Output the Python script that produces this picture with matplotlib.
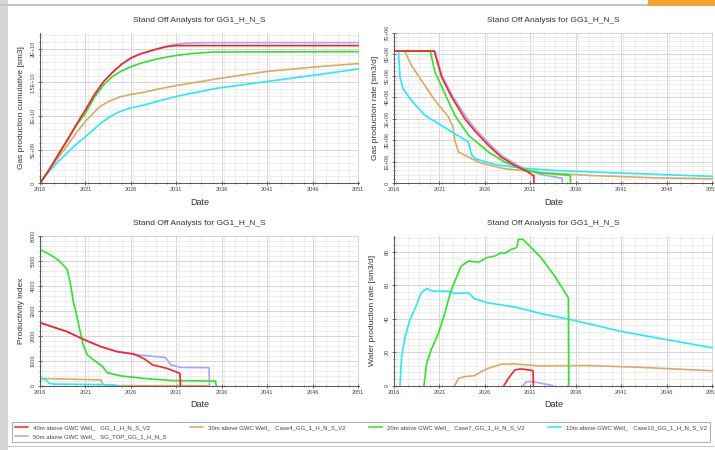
import matplotlib.pyplot as plt
from matplotlib.ticker import MultipleLocator, AutoMinorLocator, FixedLocator
from matplotlib.patches import Rectangle
from matplotlib.lines import Line2D

plt.rcParams['font.family'] = ['Liberation Sans', 'DejaVu Sans']

title = "Stand Off Analysis for GG1_H_N_S"

# case names (legend) and colours
case_labels = {
    "red": "40m above GWC Well_   GG_1_H_N_S_V2",
    "tan": "30m above GWC Well_   Case4_GG_1_H_N_S_V2",
    "green": "20m above GWC Well_   Case7_GG_1_H_N_S_V2",
    "cyan": "10m above GWC Well_   Case10_GG_1_H_N_S_V2",
    "lav": "50m above GWC Well_   SG_TOP_GG_1_H_N_S",
}
colors = {"red": "#ff2222", "tan": "#dcaa62", "green": "#2be62b",
          "cyan": "#22eaff", "lav": "#a8a4ff"}

# gas production cumulative [sm3]
cum_yr = {
    "red": [2016, 2017, 2018, 2019, 2020, 2021, 2022, 2023, 2024, 2025, 2026, 2027, 2028, 2029, 2030, 2031, 2051.2],
    "lav": [2016, 2017, 2018, 2019, 2020, 2021, 2022, 2023, 2024, 2025, 2026, 2027, 2028, 2029, 2030, 2031,
            2032, 2033, 2034.6, 2051.2],
    "green": [2016, 2017, 2018, 2019, 2020, 2021, 2022, 2023, 2024, 2025, 2026, 2027, 2029, 2031, 2033, 2035.1,
              2051.2],
    "tan": [2016, 2017, 2018, 2018.9, 2020, 2021, 2022, 2022.5, 2023.5, 2024.7, 2026, 2027.4, 2029, 2031,
            2035.4, 2040.9, 2046.4, 2051.2],
    "cyan": [2016, 2017.1, 2018, 2018.9, 2020, 2021, 2022, 2022.6, 2023.6, 2024.7, 2026, 2027.4, 2029, 2031,
             2035.4, 2040.9, 2046.4, 2051.2],
}
cum_val = {
    "red": [0, 0.2e10, 0.42e10, 0.64e10, 0.87e10, 1.09e10, 1.32e10, 1.51e10, 1.65e10, 1.77e10, 1.86e10,
            1.92e10, 1.96e10, 2.0e10, 2.03e10, 2.045e10, 2.045e10],
    "lav": [0, 0.2e10, 0.42e10, 0.64e10, 0.87e10, 1.09e10, 1.32e10, 1.51e10, 1.65e10, 1.77e10, 1.86e10,
            1.92e10, 1.96e10, 2.0e10, 2.04e10, 2.065e10, 2.08e10, 2.087e10, 2.09e10, 2.09e10],
    "green": [0, 0.2e10, 0.42e10, 0.64e10, 0.86e10, 1.04e10, 1.28e10, 1.46e10, 1.59e10, 1.67e10, 1.73e10,
              1.78e10, 1.85e10, 1.90e10, 1.93e10, 1.95e10, 1.955e10],
    "tan": [0, 0.19e10, 0.38e10, 0.54e10, 0.75e10, 0.92e10, 1.06e10, 1.13e10, 1.21e10, 1.28e10, 1.32e10,
            1.35e10, 1.40e10, 1.45e10, 1.55e10, 1.66e10, 1.73e10, 1.78e10],
    "cyan": [0, 0.19e10, 0.32e10, 0.44e10, 0.58e10, 0.69e10, 0.81e10, 0.88e10, 0.98e10, 1.06e10, 1.12e10,
             1.16e10, 1.22e10, 1.29e10, 1.41e10, 1.51e10, 1.61e10, 1.70e10],
}

# gas production rate [sm3/d]
rate_yr = {
    "red": [2016, 2016, 2020.44, 2021.24, 2022.34, 2023.8, 2024.9, 2026.4, 2027.8, 2029.3, 2030.8, 2031.3, 2031.4, 2031.4],
    "lav": [2016, 2016, 2020.5, 2021.3, 2022.4, 2023.9, 2025.0, 2026.5, 2027.9, 2029.4, 2030.8, 2032.2, 2034.5, 2034.55],
    "green": [2016, 2016, 2020.0, 2020.5, 2021.6, 2022.7, 2024.2, 2026.4, 2028.2, 2030.0, 2032.2, 2035.4, 2035.45],
    "tan": [2016, 2016, 2017.2, 2017.9, 2019.0, 2020.5, 2022.0, 2022.5, 2022.7, 2023.1, 2024.2, 2025.6, 2028.2,
            2031.9, 2037.4, 2044.7, 2051.3],
    "cyan": [2016, 2016, 2016.5, 2016.66, 2017.0, 2017.9, 2019.4, 2020.9, 2022.7, 2024.2, 2024.5, 2024.9, 2027.1,
             2030.0, 2033.7, 2041.0, 2051.3],
}
rate_val = {
    "red": [0, 6.15e6, 6.15e6, 4.95e6, 4.02e6, 3.0e6, 2.43e6, 1.76e6, 1.21e6, 0.83e6, 0.51e6, 0.36e6, 0.36e6, 0],
    "lav": [0, 6.15e6, 6.15e6, 5.0e6, 4.1e6, 3.1e6, 2.5e6, 1.83e6, 1.27e6, 0.88e6, 0.58e6, 0.40e6, 0.23e6, 0],
    "green": [0, 6.15e6, 6.15e6, 5.19e6, 4.17e6, 3.16e6, 2.23e6, 1.45e6, 0.98e6, 0.67e6, 0.47e6, 0.36e6, 0],
    "tan": [0, 6.15e6, 6.15e6, 5.5e6, 4.8e6, 3.86e6, 3.08e6, 2.62e6, 2.0e6, 1.45e6, 1.21e6, 0.93e6, 0.67e6,
            0.51e6, 0.36e6, 0.25e6, 0.20e6],
    "cyan": [0, 6.15e6, 6.15e6, 4.95e6, 4.4e6, 3.86e6, 3.16e6, 2.77e6, 2.3e6, 1.92e6, 1.37e6, 1.14e6, 0.87e6,
             0.70e6, 0.59e6, 0.47e6, 0.31e6],
}

# productivity index
pi_yr = {
    "red": [2016, 2016, 2019.0, 2020.8, 2022.7, 2024.5, 2026.3, 2027.4, 2028.4, 2030.0, 2031.4, 2031.45],
    "lav": [2016, 2016, 2019.0, 2020.8, 2022.7, 2024.5, 2026.3, 2027.4, 2029.8, 2030.4, 2031.5, 2034.6, 2034.65],
    "green": [2016, 2016, 2017.2, 2018.1, 2019.0, 2019.4, 2019.7, 2019.9, 2020.3, 2020.7, 2021.2, 2022.3, 2022.9,
              2023.4, 2024.9, 2027.4, 2030.7, 2035.3, 2035.4],
    "tan": [2016, 2016, 2022.7, 2022.9, 2023.2, 2034.6],
    "cyan": [2016, 2016, 2016.6, 2017.0, 2017.5, 2022.7, 2024.3, 2024.5],
}
pi_val = {
    "red": [0, 2520, 2160, 1850, 1560, 1360, 1270, 1090, 830, 690, 490, 0],
    "lav": [0, 2520, 2160, 1850, 1560, 1360, 1250, 1210, 1130, 830, 730, 720, 0],
    "green": [0, 5450, 5225, 5000, 4650, 3960, 3290, 3030, 2360, 1690, 1230, 920, 760, 520, 390, 290, 200, 187, 0],
    "tan": [0, 290, 230, 65, 0, 0],
    "cyan": [0, 290, 250, 90, 65, 40, 25, 0],
}

# water production rate [sm3/d]
wat_yr = {
    "cyan": [2016.66, 2016.84, 2017.2, 2017.76, 2018.5, 2019.0, 2019.6, 2020.3, 2022.0, 2022.7, 2024.2, 2024.9,
             2026.4, 2029.3, 2032.2, 2035.5, 2041.0, 2046.5, 2051.3],
    "green": [2019.3, 2019.6, 2020.1, 2020.9, 2021.6, 2022.2, 2022.7, 2023.4, 2024.2, 2025.3, 2026.2, 2027.1,
              2027.8, 2028.2, 2028.9, 2029.5, 2029.7, 2030.2, 2032.2, 2033.7, 2035.2, 2035.25],
    "tan": [2022.7, 2023.1, 2023.8, 2024.9, 2025.6, 2026.4, 2027.8, 2029.3, 2031.9, 2037.4, 2042.9, 2051.3],
    "red": [2028.1, 2028.6, 2029.3, 2030.0, 2030.8, 2031.3, 2031.35],
    "lav": [2030.2, 2030.6, 2031.3, 2032.2, 2033.5],
}
wat_val = {
    "cyan": [0, 17.4, 28.4, 39.4, 48.4, 55.4, 58, 56.4, 56.4, 55, 55.4, 51.8, 49.4, 47, 43, 39.4, 32.4, 27, 22.4],
    "green": [0, 13.4, 21.4, 31.4, 43.4, 55.4, 62.4, 71.4, 74.4, 73.8, 76.4, 77.4, 79.4, 79, 81.4, 82.4, 87.4,
              87.4, 76.4, 65.4, 52.4, 0],
    "tan": [0, 4.4, 5.4, 6, 8.4, 10.4, 12.8, 13, 11.8, 12, 11, 8.8],
    "red": [0, 4.4, 9.4, 10, 9.4, 9, 0],
    "lav": [0, 2.4, 2.4, 1.4, 0],
}

draw_order = ["lav", "tan", "cyan", "green", "red"]
year_ticks = [2016, 2021, 2026, 2031, 2036, 2041, 2046, 2051]

fig = plt.figure(figsize=(7.15, 4.5), dpi=100)

# window decorations of the screenshot
fig.add_artist(Rectangle((0, 0), 8 / 715, 1, transform=fig.transFigure, color="#d6d6d6", lw=0))
fig.add_artist(Rectangle((0, 1 - 6 / 450), 648 / 715, 2 / 450, transform=fig.transFigure, color="#c4c4c4", lw=0))
fig.add_artist(Rectangle((648 / 715, 1 - 6 / 450), 67 / 715, 6 / 450, transform=fig.transFigure, color="#f0a42c", lw=0))
fig.add_artist(Rectangle((8 / 715, 3 / 450), 706 / 715, 1 / 450, transform=fig.transFigure, color="#c8c8c8", lw=0))


def setup(ax, ylabel, ylim, yticks, ylabels, labelpad):
    ax.set_xlim(2016, 2051.1)
    ax.set_ylim(*ylim)
    ax.set_title(title, fontsize=6, color="#333333", pad=8)
    ax.set_xlabel("Date", fontsize=6.5, color="#333333", labelpad=4)
    ax.set_ylabel(ylabel, fontsize=6, color="#333333", labelpad=labelpad)
    ax.xaxis.set_major_locator(FixedLocator(year_ticks))
    ax.set_xticklabels([str(y) for y in year_ticks])
    ax.xaxis.set_minor_locator(MultipleLocator(1.25))
    ax.yaxis.set_major_locator(FixedLocator(yticks))
    ax.set_yticklabels(ylabels, rotation=90, va="center")
    ax.yaxis.set_minor_locator(AutoMinorLocator(5))
    ax.tick_params(which="major", direction="inout", length=3, width=0.6, color="#555555",
                   labelsize=4, labelcolor="#444444", pad=1.5)
    ax.tick_params(which="minor", direction="inout", length=1.8, width=0.5, color="#666666")
    ax.grid(which="major", color="#cfcfcf", lw=0.6)
    ax.grid(which="minor", color="#e8e8e8", lw=0.5)
    ax.set_axisbelow(True)
    for s in ["top", "right"]:
        ax.spines[s].set_visible(False)
    for s in ["left", "bottom"]:
        ax.spines[s].set_color("#555555")
        ax.spines[s].set_linewidth(0.7)


ax1 = fig.add_axes([0.056, 0.593, 0.446, 0.334])
ax2 = fig.add_axes([0.551, 0.593, 0.446, 0.334])
ax3 = fig.add_axes([0.056, 0.143, 0.446, 0.333])
ax4 = fig.add_axes([0.551, 0.143, 0.446, 0.333])

for k in draw_order:
    ax1.plot(cum_yr[k], cum_val[k], color=colors[k], lw=1.2)
    ax2.plot(rate_yr[k], rate_val[k], color=colors[k], lw=1.2)
    ax3.plot(pi_yr[k], pi_val[k], color=colors[k], lw=1.2)
    ax4.plot(wat_yr[k], wat_val[k], color=colors[k], lw=1.2)

setup(ax1, "Gas production cumulative [sm3]", (0, 2.235e10),
      [0, 5e9, 1e10, 1.5e10, 2e10], ["0", "5E+09", "1E+10", "1.5E+10", "2E+10"], 4)
setup(ax2, "Gas production rate [sm3/d]", (0, 7e6),
      [i * 1e6 for i in range(8)], ["0"] + [f"{i}E+06" for i in range(1, 8)], 4)
setup(ax3, "Productivity index", (0, 6000),
      [0, 1000, 2000, 3000, 4000, 5000, 6000], ["0", "1000", "2000", "3000", "4000", "5000", "6000"], 4)
setup(ax4, "Water production rate [sm3/d]", (0, 89.5),
      [0, 20, 40, 60, 80], ["0", "20", "40", "60", "80"], 6)

legend_keys = ["red", "lav", "tan", "green", "cyan"]
handles = [Line2D([], [], color=colors[k], lw=1.1) for k in legend_keys]
leg = fig.legend(handles, [case_labels[k] for k in legend_keys], ncol=4, loc="lower left",
                 bbox_to_anchor=(12 / 715, 8 / 450, 698 / 715, 26 / 450), mode="expand",
                 fontsize=4.3, frameon=True, fancybox=False, edgecolor="#9a9a9a",
                 handlelength=2.2, handletextpad=0.8, borderpad=0.5, labelspacing=0.6,
                 borderaxespad=0)
leg.get_frame().set_linewidth(0.7)
for t in leg.get_texts():
    t.set_color("#444444")

fig.savefig("out.png", dpi=100)
